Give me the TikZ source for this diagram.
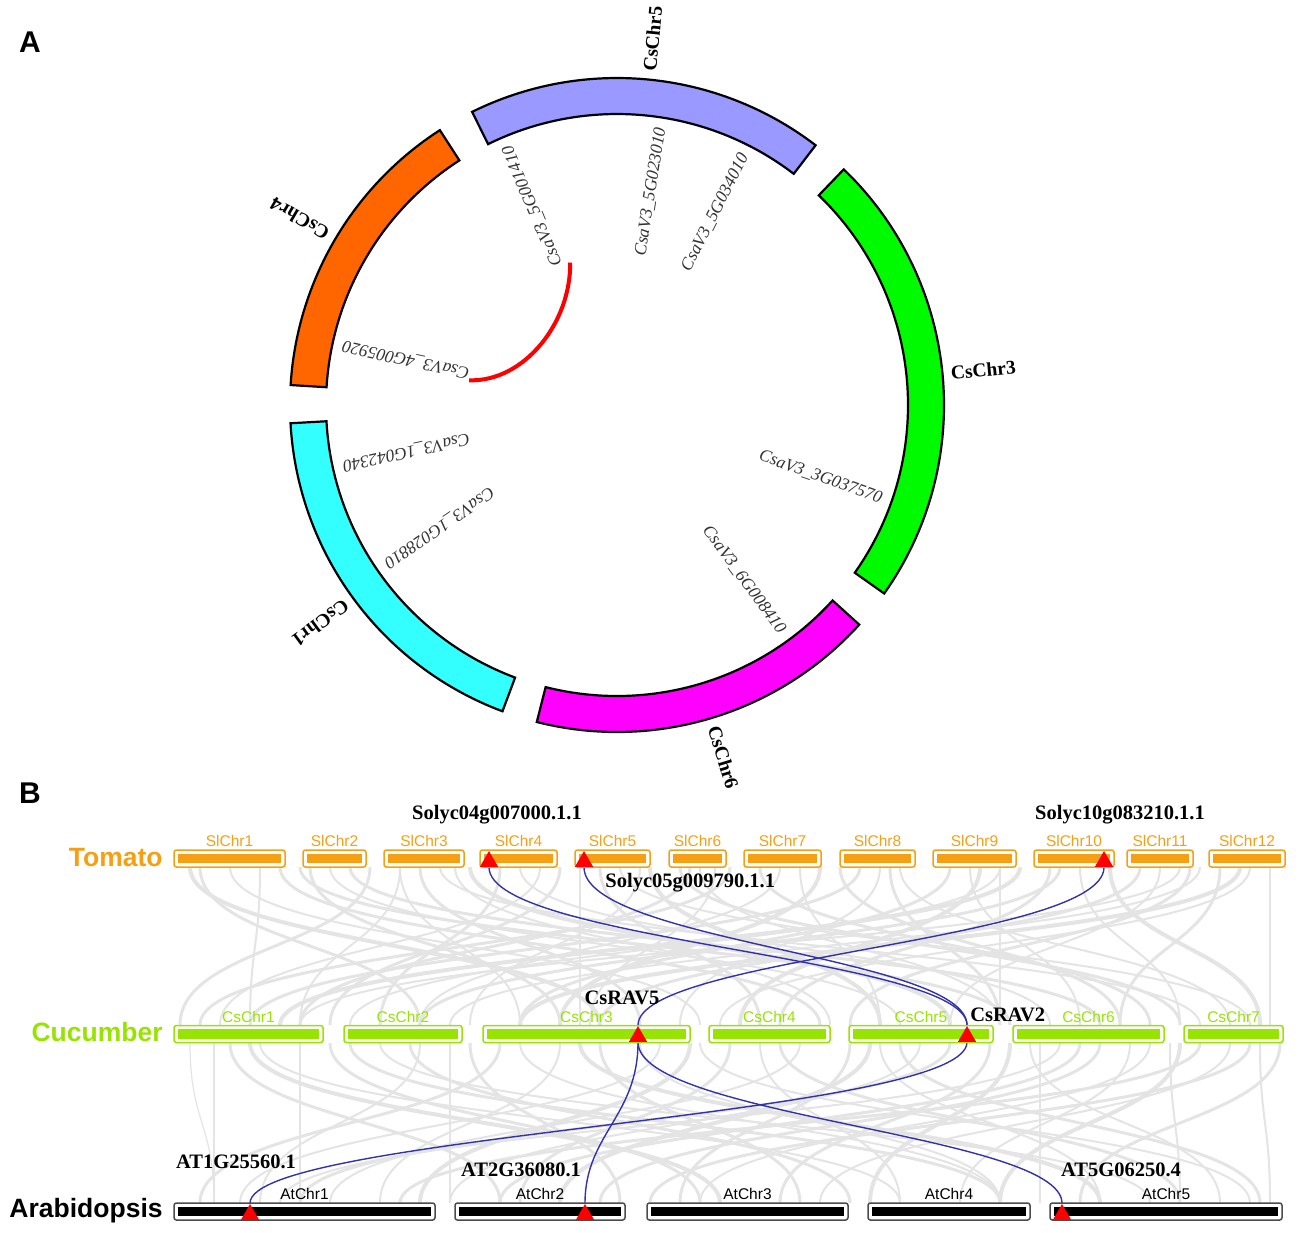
\documentclass[tikz,border=0pt]{standalone}
\usepackage{fontspec}
\setmainfont{Liberation Serif}
\setsansfont{Liberation Sans}
\usetikzlibrary{shapes.geometric}
\definecolor{chrfive}{RGB}{153,153,255}
\definecolor{chrthree}{RGB}{0,250,0}
\definecolor{chrsix}{RGB}{255,0,255}
\definecolor{chrone}{RGB}{51,255,255}
\definecolor{chrfour}{RGB}{255,102,0}
\definecolor{tomato}{RGB}{245,160,20}
\definecolor{cucumber}{RGB}{150,228,0}
\definecolor{synteny}{RGB}{228,228,228}
\definecolor{linkblue}{RGB}{50,50,170}
\definecolor{genegray}{RGB}{50,50,50}
\pgfdeclarelayer{bg}
\pgfdeclarelayer{links}
\pgfsetlayers{bg,links,main}
\tikzset{
  band/.style={draw=black, line width=1.1pt},
  chrname/.style={font=\fontsize{9.75}{10}\selectfont\bfseries, anchor=west, inner sep=0pt},
  genename/.style={font=\fontsize{8.75}{9}\selectfont\itshape, text=genegray, anchor=east, inner sep=0pt},
  panel/.style={font=\fontsize{15}{16}\selectfont\sffamily\bfseries, inner sep=0pt},
  species/.style={font=\fontsize{13.25}{14}\selectfont\sffamily\bfseries, anchor=east, inner sep=0pt},
  chrbox/.style={draw=#1, fill=white, rounded corners=1.2pt, minimum height=8.5pt, inner sep=0pt, line width=0.75pt},
  boxname/.style={font=\fontsize{7.75}{8}\selectfont\sffamily, inner sep=0pt, label distance=1pt},
  genemark/.style={regular polygon, regular polygon sides=3, fill=red, inner sep=0pt, minimum size=10.5pt},
  genelabel/.style={font=\fontsize{10.25}{11}\selectfont\bfseries, inner sep=0pt},
  synlink/.style={linkblue, line width=0.7pt}
}
\begin{document}
\begin{tikzpicture}[x=0.5pt,y=0.5pt]
  \useasboundingbox (0,0) rectangle (1299,-1232);
  \node[panel] (pa) at (30,-42) {A};
  \node[panel] (pb) at (30,-793) {B};

  % circos of the cucumber chromosomes
  \begin{scope}[shift={(617,-405)}]
    \foreach \a/\b/\col/\nm/\id in {52.6/116.3/chrfive/CsChr5/five, -35.2/46.1/chrthree/CsChr3/three,
        -104.2/-42.2/chrsix/CsChr6/six, 183.2/249.5/chrone/CsChr1/one, 122.8/176.5/chrfour/CsChr4/four} {
      \pgfmathsetmacro\m{(\a+\b)/2}
      \draw[band, fill=\col] (\a:327) arc[start angle=\a, end angle=\b, radius=163.5pt]
        -- (\b:291) arc[start angle=\b, end angle=\a, radius=145.5pt] -- cycle;
      \node[chrname, rotate=\m] (lab\id) at (\m:335) {\nm};
    }
    \foreach \g/\ang in {5G001410/113, 5G023010/81, 5G034010/63, 3G037570/-19.5,
        6G008410/-54, 1G028810/214.5, 1G042340/192.5, 4G005920/167.8}
      \node[genename, rotate=\ang] (g\g) at (\ang:281) {CsaV3\_\g};
    % segmental duplication
    \coordinate (dupa) at (108.2:150);
    \coordinate (dupb) at (170.5:150);
    \draw[red, line width=2pt] (dupa) .. controls +(1,-60) and +(55,-2) .. (dupb);
  \end{scope}

  % chromosome rows
  \node[species, text=tomato] (tomato) at (163,-857) {Tomato};
  \foreach \n/\a/\b in {1/174/285, 2/303/366, 3/384/464, 4/480/557, 5/575/650, 6/669/726,
      7/744/821, 8/840/915, 9/933/1016, 10/1034/1114, 11/1127/1193, 12/1209/1285} {
    \pgfmathsetmacro\w{(\b-\a)/2}
    \node[chrbox=tomato, minimum width=\w pt, label={[boxname, text=tomato]above:SlChr\n}] (sl\n) at ({(\a+\b)/2},-858.5) {};
    \fill[tomato] ([shift={(5,-4.5)}]sl\n.north west) rectangle ([shift={(-5,4.5)}]sl\n.south east);
  }
  \node[species, text=cucumber] (cucumber) at (163,-1032) {Cucumber};
  \foreach \n/\a/\b in {1/174/323, 2/344/462, 3/483/690, 4/709/830, 5/849/993, 6/1013/1164, 7/1184/1283} {
    \pgfmathsetmacro\w{(\b-\a)/2}
    \node[chrbox=cucumber, minimum width=\w pt, label={[boxname, text=cucumber]above:CsChr\n}] (cs\n) at ({(\a+\b)/2},-1034) {};
    \fill[cucumber] ([shift={(5,-4.5)}]cs\n.north west) rectangle ([shift={(-5,4.5)}]cs\n.south east);
  }
  \node[species] (arabidopsis) at (163,-1211) {Arabidopsis};
  \foreach \n/\a/\b in {1/174/435, 2/455/625, 3/647/848, 4/868/1030, 5/1050/1282} {
    \pgfmathsetmacro\w{(\b-\a)/2}
    \node[chrbox=black!70, minimum width=\w pt, label={[boxname]above:AtChr\n}] (at\n) at ({(\a+\b)/2},-1211.5) {};
    \fill[black] ([shift={(5,-4.5)}]at\n.north west) rectangle ([shift={(-5,4.5)}]at\n.south east);
  }

  % RAV genes
  \node[genemark] (sl4g) at (489,-861.5) {};
  \node[genemark] (sl5g) at (584,-861.5) {};
  \node[genemark] (sl10g) at (1104,-861.5) {};
  \node[genemark] (cs3g) at (638,-1036.5) {};
  \node[genemark] (cs5g) at (967,-1036.5) {};
  \node[genemark] (at1g) at (250,-1214.5) {};
  \node[genemark] (at2g) at (585,-1214.5) {};
  \node[genemark] (at5g) at (1062,-1214.5) {};
  \node[genelabel] (sl4n) at (497,-815) {Solyc04g007000.1.1};
  \node[genelabel] (sl10n) at (1120,-815) {Solyc10g083210.1.1};
  \node[genelabel, anchor=west] (sl5n) at (605,-883) {Solyc05g009790.1.1};
  \node[genelabel] (cs3n) at (622,-998) {CsRAV5};
  \node[genelabel, anchor=west] (cs5n) at (970,-1015) {CsRAV2};
  \node[genelabel] (at1n) at (236,-1162) {AT1G25560.1};
  \node[genelabel] (at2n) at (521,-1170) {AT2G36080.1};
  \node[genelabel] (at5n) at (1121,-1170) {AT5G06250.4};

  % orthologous pairs
  \begin{pgfonlayer}{links}
    \draw[synlink] (sl4g) .. controls +(0,-80) and +(0,80) .. (cs5g);
    \draw[synlink] (sl5g) .. controls +(0,-80) and +(0,80) .. (cs5g);
    \draw[synlink] (sl10g) .. controls +(0,-80) and +(0,80) .. (cs3g);
    \draw[synlink] (cs3g) .. controls +(0,-80) and +(0,80) .. (at2g);
    \draw[synlink] (cs3g) .. controls +(0,-80) and +(0,80) .. (at5g);
    \draw[synlink] (cs5g) .. controls +(0,-80) and +(0,80) .. (at1g);
  \end{pgfonlayer}

  % collinear blocks in the background
  \begin{pgfonlayer}{bg}
    \foreach \a/\b/\w in {200/420/1.5, 230/700/1, 260/250/1, 310/560/1.5, 330/900/1, 350/1100/1.5,
        400/300/1, 420/640/1.5, 440/1200/1, 455/830/1, 500/380/1.5, 520/1050/1, 540/220/1,
        600/760/1.5, 620/1250/1, 640/470/1, 690/300/1.5, 700/1000/1, 715/590/1, 760/1150/1.5,
        780/420/1, 800/880/1, 860/250/1.5, 880/680/1, 900/1230/1, 950/520/1.5, 970/1080/1,
        1000/350/1, 1050/780/1.5, 1080/1180/1, 1140/600/1.5, 1160/950/1, 1180/300/1,
        1220/1120/1.5, 1250/720/1, 1270/1270/1, 1200/450/1, 1000/1000/1, 400/520/1, 580/580/0.6,
        190/600/2, 280/820/1.5, 370/180/1.5, 470/950/2, 560/330/1.5, 650/880/2, 730/200/1.5,
        820/560/2, 890/1000/1.5, 980/740/2, 1060/420/1.5, 1110/1260/2, 1190/850/1.5, 1240/520/2,
        300/1010/1.5, 680/1180/1.5, 1020/280/2, 840/1120/1.5}
      \draw[synteny, line width=\w pt] (\a,-867) .. controls (\a,-946) and (\b,-946) .. (\b,-1025);
    \foreach \a/\b/\w in {190/214/0.6, 214/214/0.6, 230/500/1.5, 260/900/1, 300/300/1, 330/700/1.5,
        380/1150/1, 420/260/1, 470/620/1.5, 520/1000/1, 560/380/1, 600/800/1.5, 660/240/1,
        700/1250/1, 730/520/1.5, 760/900/1, 800/330/1, 850/680/1.5, 880/1100/1, 920/450/1,
        990/780/1.5, 1030/1220/1, 1060/280/1, 1100/600/1.5, 1130/960/1, 1170/1180/1,
        1200/400/1.5, 1230/820/1, 1260/1270/1, 1280/1080/1.5, 1040/1040/1, 450/450/1,
        640/1000/1, 1150/700/1, 250/720/2, 350/1000/1.5, 500/200/1.5, 580/1100/2, 690/420/2,
        780/1180/1.5, 870/560/2, 950/300/1.5, 1010/870/2, 1080/500/1.5, 1180/1000/2, 1250/650/1.5,
        410/850/1.5, 900/1260/1.5}
      \draw[synteny, line width=\w pt] (\a,-1043) .. controls (\a,-1123) and (\b,-1123) .. (\b,-1203);
  \end{pgfonlayer}
\end{tikzpicture}
\end{document}
